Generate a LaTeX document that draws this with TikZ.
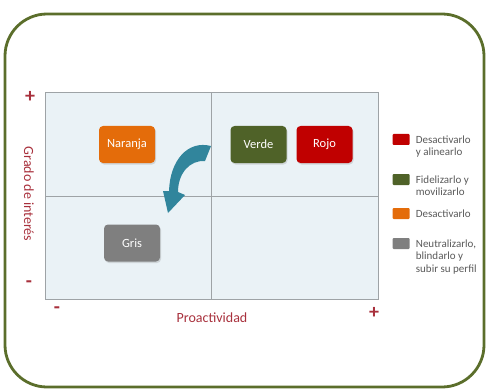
\documentclass[tikz,border=0pt]{standalone}
\usepackage{fontspec}
\setmainfont{Carlito}
\usetikzlibrary{positioning, shadows}

\definecolor{marco}{HTML}{5B6E2B}
\definecolor{fondo}{HTML}{EAF2F6}
\definecolor{borde}{HTML}{9EA3A6}
\definecolor{naranja}{HTML}{E46C0A}
\definecolor{verde}{HTML}{4F6228}
\definecolor{rojo}{HTML}{C00000}
\definecolor{gris}{HTML}{7F7F7F}
\definecolor{eje}{HTML}{A8303C}
\definecolor{flecha}{HTML}{31859C}
\definecolor{texto}{HTML}{595959}

\tikzset{
  caja/.style={rectangle, rounded corners=4pt, minimum width=56pt, minimum height=37pt,
    text=white, font=\fontsize{12.5}{14}\selectfont,
    drop shadow={opacity=0.25, shadow xshift=1pt, shadow yshift=-1.5pt}},
  cuadro/.style={rectangle, rounded corners=1pt, minimum width=17pt, minimum height=11pt, inner sep=0pt},
  leyenda/.style={anchor=north west, align=left, inner sep=0pt, text=texto,
    font=\fontsize{11}{12.3}\selectfont},
  signo/.style={text=eje, font=\fontsize{20}{20}\selectfont\bfseries},
  etiqueta/.style={text=eje, font=\fontsize{14}{16}\selectfont}
}

\begin{document}
\begin{tikzpicture}[x=1pt, y=-1pt, node distance=66pt]
\useasboundingbox (0,0) rectangle (489,390);

\draw [marco, line width=2.8pt, rounded corners=42pt] (5,14) rectangle (484,387);

\draw [borde, fill=fondo, line width=1pt] (45,93) rectangle (378,299);
\draw [borde, line width=1pt] (211,93) -- (211,299);
\draw [borde, line width=1pt] (45,196) -- (378,196);

\node [caja, fill=naranja] (naranja) at (127,144.5) {Naranja};
\node [caja, fill=verde] (verde) at (258.5,144.5) {Verde};
\node [caja, fill=rojo] (rojo) [right of=verde] {Rojo};
\node [caja, fill=gris] (gris) at (132,243) {Gris};

\fill [flecha] (211,146) .. controls (188,140) and (170,160) .. (169,191)
  -- (163,191) -- (168,213) -- (185,195) -- (178,192)
  .. controls (178,173) and (190,160) .. (205,161) -- cycle;

\node [signo] (masy) at (30,97) {+};
\node [signo] (menosy) at (29,284) {-};
\node [signo] (menosx) at (57,310) {-};
\node [signo] (masx) at (374,313) {+};
\node [etiqueta] (proact) at (212,318) {Proactividad};
\node [etiqueta, rotate=-90] (grado) at (29,194) {Grado de interés};

\node [cuadro, fill=rojo] (ley1) at (401,139.5) {};
\node [cuadro, fill=verde] (ley2) at (401,179.5) {};
\node [cuadro, fill=naranja] (ley3) at (401,213.5) {};
\node [cuadro, fill=gris] (ley4) at (401,243.5) {};
\node [leyenda] (txt1) at ([xshift=6pt, yshift=-2pt]ley1.north east) {Desactivarlo\\y alinearlo};
\node [leyenda] (txt2) at ([xshift=6pt, yshift=-2pt]ley2.north east) {Fidelizarlo y\\movilizarlo};
\node [leyenda] (txt3) at ([xshift=6pt, yshift=-2pt]ley3.north east) {Desactivarlo};
\node [leyenda] (txt4) at ([xshift=6pt, yshift=-2pt]ley4.north east) {Neutralizarlo,\\blindarlo y\\subir su perfil};

\end{tikzpicture}
\end{document}
